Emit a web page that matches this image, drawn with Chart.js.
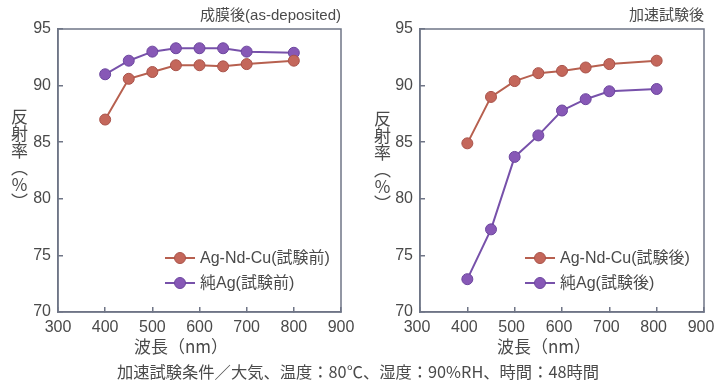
<!DOCTYPE html>
<html>
<head>
<meta charset="utf-8">
<script src="https://cdn.jsdelivr.net/npm/chart.js@4.4.0/dist/chart.umd.min.js"></script>
<style>
  body { margin: 0; background: #fff; width: 714px; height: 383px; position: relative; overflow: hidden;
         font-family: "Liberation Sans", "Noto Sans CJK JP", sans-serif; color: #4a4a4a; }
  .wrap { position: absolute; top: 0; width: 357px; height: 383px; }
  .ytitle { position: absolute; writing-mode: vertical-rl; font-size: 17px; line-height: 1;
            font-family: "Noto Sans CJK JP", sans-serif; }
  .xtitle { position: absolute; top: 336px; font-size: 17px; white-space: nowrap; transform: translateX(-50%);
            font-family: "Noto Sans CJK JP", sans-serif; line-height: 20px; }
  .note { position: absolute; top: 361px; left: 358px; transform: translateX(-50%); white-space: nowrap;
          font-size: 16.3px; line-height: 20px; font-family: "Noto Sans CJK JP", sans-serif; }
</style>
</head>
<body>
<div class="wrap" style="left:0"><canvas id="chartBefore" width="357" height="383"></canvas></div>
<div class="wrap" style="left:357px"><canvas id="chartAfter" width="357" height="383"></canvas></div>
<div class="ytitle" style="left:11px;top:108px">反射率（％）</div>
<div class="ytitle" style="left:374px;top:110px">反射率（％）</div>
<div class="xtitle" style="left:181px">波長（nm）</div>
<div class="xtitle" style="left:544px">波長（nm）</div>
<div class="note">加速試験条件／大気、温度：80℃、湿度：90%RH、時間：48時間</div>

<script>
// datos
const wavelengths = [400, 450, 500, 550, 600, 650, 700, 800];
const agNdCuBefore = [87.0, 90.6, 91.2, 91.8, 91.8, 91.7, 91.9, 92.2];
const pureAgBefore = [91.0, 92.2, 93.0, 93.3, 93.3, 93.3, 93.0, 92.9];
const agNdCuAfter  = [84.9, 89.0, 90.4, 91.1, 91.3, 91.6, 91.9, 92.2];
const pureAgAfter  = [72.9, 77.3, 83.7, 85.6, 87.8, 88.8, 89.5, 89.7];

const xMin = 300, xMax = 900, xStep = 100;
const yMin = 70, yMax = 95, yStep = 5;

const titleBefore = '成膜後(as-deposited)';
const titleAfter = '加速試験後';
const labelsBefore = ['Ag-Nd-Cu(試験前)', '純Ag(試験前)'];
const labelsAfter = ['Ag-Nd-Cu(試験後)', '純Ag(試験後)'];

// estilos
const RED = { line: '#b7604f', fill: '#c4675b', edge: '#a9534a' };
const PURPLE = { line: '#7751aa', fill: '#8758b6', edge: '#6c469e' };
const AXIS_COLOR = '#6f7586';
const TEXT_COLOR = '#4a4a4a';
const FONT = '"Liberation Sans", "Noto Sans CJK JP", sans-serif';

function toPoints(values) {
  return wavelengths.map((w, i) => ({ x: w, y: values[i] }));
}

function makeDataset(label, values, c) {
  return {
    label: label,
    data: toPoints(values),
    borderColor: c.line,
    borderWidth: 2,
    pointBackgroundColor: c.fill,
    pointBorderColor: c.edge,
    pointBorderWidth: 1,
    pointRadius: 5.5,
    tension: 0
  };
}

// caja alrededor del área de trazado
const boxPlugin = {
  id: 'boxPlugin',
  beforeDatasetsDraw(chart) {
    const { ctx, chartArea } = chart;
    ctx.save();
    ctx.strokeStyle = AXIS_COLOR;
    ctx.lineWidth = 1.5;
    ctx.strokeRect(chartArea.left, chartArea.top, chartArea.right - chartArea.left, chartArea.bottom - chartArea.top);
    ctx.restore();
  }
};

// leyenda dentro del gráfico (línea + punto)
const insideLegend = {
  id: 'insideLegend',
  afterDatasetsDraw(chart, args, opts) {
    const { ctx, chartArea } = chart;
    chart.data.datasets.forEach((ds, i) => {
      const y = chartArea.top + opts.top + i * opts.rowGap;
      const x0 = chartArea.left + opts.left;
      ctx.save();
      ctx.strokeStyle = ds.borderColor;
      ctx.lineWidth = 2;
      ctx.beginPath();
      ctx.moveTo(x0, y);
      ctx.lineTo(x0 + opts.lineLen, y);
      ctx.stroke();
      ctx.fillStyle = ds.pointBackgroundColor;
      ctx.strokeStyle = ds.pointBorderColor;
      ctx.lineWidth = 1;
      ctx.beginPath();
      ctx.arc(x0 + opts.lineLen / 2, y, 5.5, 0, Math.PI * 2);
      ctx.fill();
      ctx.stroke();
      ctx.fillStyle = TEXT_COLOR;
      ctx.font = '16px ' + FONT;
      ctx.textBaseline = 'middle';
      ctx.fillText(ds.label, x0 + opts.lineLen + 5, y + 1);
      ctx.restore();
    });
  }
};

function makeChart(canvasId, title, labels, series1, series2, yWidth, padRight, legendLeft, xLabelShift) {
  const ctx = document.getElementById(canvasId).getContext('2d');
  return new Chart(ctx, {
    type: 'line',
    data: {
      datasets: [
        makeDataset(labels[0], series1, RED),
        makeDataset(labels[1], series2, PURPLE)
      ]
    },
    options: {
      responsive: false,
      animation: false,
      layout: { padding: { left: 0, right: padRight, top: 0, bottom: 31 } },
      plugins: {
        legend: { display: false },
        tooltip: { enabled: false },
        title: {
          display: true,
          text: title,
          align: 'end',
          color: TEXT_COLOR,
          font: { size: 15, family: FONT, weight: 'normal' },
          padding: { top: 7, bottom: 4 }
        },
        insideLegend: { left: legendLeft, top: 229, rowGap: 25, lineLen: 30 }
      },
      scales: {
        x: {
          type: 'linear',
          min: xMin,
          max: xMax,
          afterFit: s => { s.height = 40; s.paddingRight = 0; s.paddingLeft = 0; },
          ticks: { stepSize: xStep, color: TEXT_COLOR, font: { size: 16, family: FONT }, padding: 11,
                   maxRotation: 0, autoSkip: false, labelOffset: xLabelShift },
          grid: { drawOnChartArea: false, tickLength: -5, color: AXIS_COLOR, lineWidth: 1.5 },
          border: { color: AXIS_COLOR, width: 1.5 }
        },
        y: {
          min: yMin,
          max: yMax,
          afterFit: s => { s.width = yWidth; },
          ticks: { stepSize: yStep, color: TEXT_COLOR, font: { size: 16, family: FONT }, padding: 12 },
          grid: { drawOnChartArea: false, tickLength: -5, color: AXIS_COLOR, lineWidth: 1.5 },
          border: { color: AXIS_COLOR, width: 1.5 }
        }
      }
    },
    plugins: [boxPlugin, insideLegend]
  });
}

makeChart('chartBefore', titleBefore, labelsBefore, agNdCuBefore, pureAgBefore, 58, 16, 107, 0);
makeChart('chartAfter', titleAfter, labelsAfter, agNdCuAfter, pureAgAfter, 63, 10, 105, -3);
</script>
</body>
</html>
